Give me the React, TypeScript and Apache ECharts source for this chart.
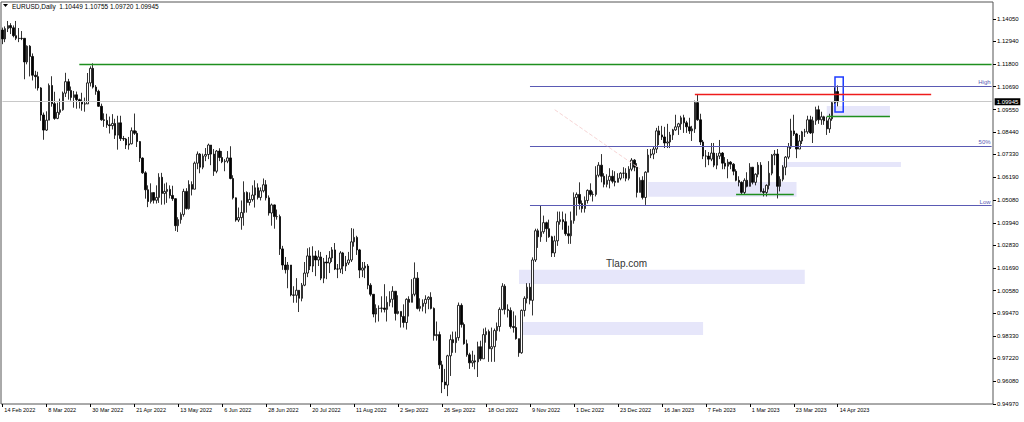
import React, { useEffect, useRef } from "react";
import * as echarts from "echarts";

// one daily bar: [close, low, high]; open is the previous close
type Bar = [number, number, number];

const symbol = "EURUSD,Daily";
const firstOpen = 1.135;

const feb22: Bar[] = [
  [1.1306, 1.128, 1.1362], [1.1357, 1.129, 1.1368], [1.1372, 1.134, 1.1395], [1.1361, 1.133, 1.1384],
  [1.1322, 1.1314, 1.1373], [1.1309, 1.13, 1.1395], [1.1308, 1.129, 1.136], [1.1309, 1.13, 1.1345],
  [1.1192, 1.1106, 1.1305], [1.127, 1.118, 1.1274], [1.1219, 1.112, 1.1275],
];
const mar22: Bar[] = [
  [1.1126, 1.11, 1.1234], [1.1119, 1.106, 1.1148], [1.1063, 1.105, 1.1143], [1.0929, 1.09, 1.1067],
  [1.0854, 1.0806, 1.0941], [1.0903, 1.085, 1.0947], [1.1075, 1.0905, 1.1085], [1.0985, 1.097, 1.1121],
  [1.0912, 1.0905, 1.1044], [1.0942, 1.0908, 1.099], [1.0955, 1.093, 1.101], [1.1037, 1.095, 1.1045],
  [1.1094, 1.1018, 1.1138], [1.105, 1.1005, 1.1108], [1.1016, 1.1, 1.107], [1.1029, 1.0965, 1.1048],
  [1.1005, 1.096, 1.1045], [1.0997, 1.0961, 1.101], [1.0983, 1.095, 1.1039], [1.0984, 1.0945, 1.1015],
  [1.1088, 1.099, 1.1137], [1.116, 1.107, 1.117], [1.1067, 1.106, 1.1185],
];
const apr22: Bar[] = [
  [1.1046, 1.1029, 1.1077], [1.0972, 1.0969, 1.1054], [1.0905, 1.09, 1.0985], [1.0902, 1.087, 1.0937],
  [1.088, 1.0865, 1.0935], [1.0876, 1.0837, 1.0921], [1.0887, 1.0857, 1.0933], [1.0829, 1.081, 1.091],
  [1.089, 1.0757, 1.0925], [1.0812, 1.08, 1.0925], [1.081, 1.08, 1.0825], [1.078, 1.076, 1.0815],
  [1.0786, 1.0757, 1.082], [1.0851, 1.0783, 1.0867], [1.0838, 1.083, 1.0936], [1.0797, 1.077, 1.085],
  [1.0715, 1.0696, 1.08], [1.0642, 1.0637, 1.0719], [1.0558, 1.0514, 1.065], [1.05, 1.0472, 1.058],
  [1.0544, 1.049, 1.059],
];
const may22: Bar[] = [
  [1.0506, 1.049, 1.0545], [1.052, 1.049, 1.058], [1.062, 1.0493, 1.064], [1.054, 1.0484, 1.0642],
  [1.055, 1.0485, 1.0589], [1.056, 1.0493, 1.0594], [1.053, 1.0515, 1.058], [1.0514, 1.0503, 1.0578],
  [1.038, 1.0354, 1.0516], [1.041, 1.0349, 1.0422], [1.0436, 1.039, 1.0446], [1.055, 1.0425, 1.0563],
  [1.0465, 1.046, 1.0566], [1.0584, 1.046, 1.0605], [1.0561, 1.053, 1.06], [1.069, 1.056, 1.0698],
  [1.0735, 1.066, 1.0748], [1.067, 1.064, 1.074], [1.0725, 1.066, 1.0737], [1.0733, 1.07, 1.0765],
  [1.078, 1.071, 1.0787], [1.0735, 1.068, 1.077],
];
const jun22: Bar[] = [
  [1.065, 1.0627, 1.076], [1.075, 1.064, 1.0755], [1.0718, 1.07, 1.0764], [1.0697, 1.069, 1.075],
  [1.07, 1.065, 1.071], [1.0716, 1.069, 1.075], [1.0614, 1.061, 1.0774], [1.0518, 1.051, 1.063],
  [1.0408, 1.04, 1.052], [1.042, 1.0398, 1.047], [1.0445, 1.036, 1.0505], [1.0545, 1.038, 1.06],
  [1.0495, 1.0445, 1.055], [1.051, 1.048, 1.0545], [1.0532, 1.05, 1.058], [1.0568, 1.047, 1.0605],
  [1.052, 1.051, 1.059], [1.0553, 1.0505, 1.057], [1.0583, 1.0545, 1.0614], [1.0518, 1.0505, 1.0606],
  [1.0443, 1.043, 1.053], [1.0483, 1.038, 1.049],
];
const jul22: Bar[] = [
  [1.0425, 1.0365, 1.0485], [1.0425, 1.041, 1.046], [1.0265, 1.0235, 1.0435], [1.0185, 1.0161, 1.028],
  [1.0162, 1.0143, 1.0225], [1.0185, 1.007, 1.02], [1.0037, 1.003, 1.016], [1.0035, 0.9998, 1.008],
  [1.006, 0.9998, 1.012], [1.002, 0.9952, 1.006], [1.0085, 1.0005, 1.0096], [1.0145, 1.008, 1.02],
  [1.023, 1.0125, 1.0268], [1.018, 1.016, 1.0273], [1.023, 1.015, 1.0278], [1.021, 1.013, 1.0255],
  [1.0225, 1.018, 1.0258], [1.012, 1.011, 1.025], [1.02, 1.0095, 1.022], [1.0195, 1.0115, 1.0235],
  [1.022, 1.0145, 1.0254],
];
const aug22: Bar[] = [
  [1.026, 1.02, 1.0274], [1.0165, 1.016, 1.0294], [1.0165, 1.012, 1.019], [1.0245, 1.0145, 1.0254],
  [1.018, 1.014, 1.025], [1.0195, 1.0155, 1.023], [1.021, 1.0185, 1.025], [1.03, 1.02, 1.0368],
  [1.0322, 1.0276, 1.0365], [1.026, 1.0235, 1.033], [1.016, 1.012, 1.0265], [1.017, 1.0125, 1.02],
  [1.018, 1.012, 1.02], [1.0085, 1.0065, 1.019], [1.004, 1.003, 1.0095], [0.9942, 0.9926, 1.004],
  [0.997, 0.99, 0.999], [0.997, 0.9905, 0.9985], [0.9972, 0.995, 1.003], [0.9965, 0.995, 1.009],
  [1.0, 0.9905, 1.003], [1.0015, 0.998, 1.0055], [1.0055, 0.9975, 1.008],
];
const sep22: Bar[] = [
  [0.9945, 0.991, 1.0045], [0.9955, 0.994, 1.0035], [0.993, 0.9875, 0.9945], [0.99, 0.9875, 0.999],
  [1.0015, 0.9865, 1.002], [1.0, 0.993, 1.003], [1.004, 1.0, 1.0115], [1.012, 1.003, 1.0198],
  [0.997, 0.9965, 1.015], [0.998, 0.9955, 1.002], [0.9995, 0.9955, 1.0015], [1.0015, 0.9945, 1.0035],
  [1.0025, 0.9966, 1.003], [0.997, 0.9965, 1.005], [0.9835, 0.981, 0.9975], [0.984, 0.981, 0.9905],
  [0.969, 0.967, 0.9855], [0.9605, 0.955, 0.971], [0.959, 0.957, 0.967], [0.9735, 0.9535, 0.974],
  [0.9815, 0.9635, 0.984], [0.98, 0.975, 0.9855],
];
const oct22: Bar[] = [
  [0.9825, 0.975, 0.9855], [0.9985, 0.981, 0.9999], [0.989, 0.9875, 0.9995], [0.9795, 0.979, 0.99],
  [0.974, 0.973, 0.9815], [0.97, 0.967, 0.975], [0.971, 0.968, 0.976], [0.9705, 0.9668, 0.974],
  [0.978, 0.963, 0.9805], [0.972, 0.971, 0.981], [0.984, 0.9725, 0.987], [0.9855, 0.98, 0.9875],
  [0.977, 0.9705, 0.9865], [0.978, 0.9705, 0.9875], [0.986, 0.9705, 0.987], [0.988, 0.981, 0.99],
  [0.9965, 0.9855, 0.9975], [1.008, 0.996, 1.0095], [0.9965, 0.994, 1.009], [0.996, 0.9925, 0.999],
  [0.988, 0.987, 0.9975],
];
const nov22: Bar[] = [
  [0.9875, 0.985, 0.9955], [0.982, 0.9815, 0.9935], [0.975, 0.973, 0.982], [0.996, 0.9745, 0.9965],
  [1.002, 0.993, 1.003], [1.0075, 0.9995, 1.0095], [1.001, 0.999, 1.0095], [1.021, 0.9935, 1.0223],
  [1.0355, 1.02, 1.0365], [1.0325, 1.027, 1.0365], [1.035, 1.03, 1.048], [1.0395, 1.034, 1.043],
  [1.0365, 1.03, 1.04], [1.0325, 1.032, 1.041], [1.0245, 1.0225, 1.033], [1.0305, 1.0225, 1.033],
  [1.04, 1.028, 1.045], [1.041, 1.0385, 1.045], [1.04, 1.036, 1.045], [1.034, 1.033, 1.044],
  [1.033, 1.029, 1.038], [1.0405, 1.029, 1.045],
];
const dec22: Bar[] = [
  [1.052, 1.039, 1.0545], [1.0535, 1.043, 1.0545], [1.049, 1.046, 1.0595], [1.0465, 1.0445, 1.0505],
  [1.0505, 1.0445, 1.0525], [1.0555, 1.049, 1.056], [1.0535, 1.0525, 1.059], [1.0535, 1.05, 1.055],
  [1.063, 1.0525, 1.0675], [1.068, 1.062, 1.0695], [1.0625, 1.0595, 1.0735], [1.0585, 1.057, 1.064],
  [1.0605, 1.057, 1.0635], [1.0625, 1.0565, 1.0665], [1.06, 1.059, 1.0655], [1.0595, 1.0575, 1.065],
  [1.0615, 1.06, 1.064], [1.064, 1.0605, 1.0645], [1.064, 1.0615, 1.067], [1.0615, 1.06, 1.0665],
  [1.066, 1.0605, 1.0675], [1.0705, 1.065, 1.0715],
];
const jan23: Bar[] = [
  [1.067, 1.065, 1.071], [1.0545, 1.052, 1.069], [1.0605, 1.0545, 1.062], [1.052, 1.051, 1.0625],
  [1.0645, 1.0483, 1.065], [1.073, 1.0645, 1.076], [1.0735, 1.0715, 1.076], [1.076, 1.071, 1.0775],
  [1.085, 1.074, 1.0865], [1.083, 1.078, 1.0875], [1.082, 1.0805, 1.0875], [1.079, 1.0765, 1.087],
  [1.0795, 1.0765, 1.0885], [1.083, 1.0765, 1.0845], [1.0855, 1.0805, 1.086], [1.087, 1.085, 1.093],
  [1.0885, 1.083, 1.089], [1.0915, 1.0855, 1.0925], [1.089, 1.084, 1.093], [1.087, 1.084, 1.09],
  [1.085, 1.0835, 1.0915], [1.086, 1.08, 1.0875],
];
const feb23: Bar[] = [
  [1.099, 1.084, 1.1], [1.0905, 1.09, 1.1033], [1.0795, 1.078, 1.0935], [1.0725, 1.071, 1.0805],
  [1.0725, 1.067, 1.0755], [1.071, 1.068, 1.0745], [1.074, 1.07, 1.079], [1.068, 1.067, 1.079],
  [1.0725, 1.066, 1.074], [1.074, 1.071, 1.0805], [1.069, 1.066, 1.0745], [1.0675, 1.066, 1.072],
  [1.0695, 1.0615, 1.071], [1.0685, 1.066, 1.07], [1.065, 1.063, 1.069], [1.0605, 1.06, 1.066],
  [1.0595, 1.0575, 1.0625], [1.0545, 1.0535, 1.06], [1.0605, 1.0535, 1.0615], [1.0575, 1.057, 1.0645],
];
const mar23: Bar[] = [
  [1.067, 1.0585, 1.069], [1.0595, 1.0585, 1.067], [1.0635, 1.058, 1.064], [1.068, 1.062, 1.0695],
  [1.055, 1.0545, 1.0695], [1.0545, 1.0525, 1.0565], [1.058, 1.0525, 1.0585], [1.064, 1.056, 1.07],
  [1.073, 1.063, 1.0735], [1.0735, 1.068, 1.0755], [1.0575, 1.0515, 1.076], [1.061, 1.055, 1.0625],
  [1.067, 1.06, 1.068], [1.072, 1.063, 1.0725], [1.077, 1.071, 1.079], [1.085, 1.076, 1.091],
  [1.0835, 1.0825, 1.093], [1.076, 1.0715, 1.084], [1.08, 1.076, 1.083], [1.0845, 1.0785, 1.085],
  [1.0845, 1.082, 1.086], [1.0905, 1.0835, 1.0925], [1.084, 1.0835, 1.0925],
];
const apr23: Bar[] = [
  [1.09, 1.079, 1.092], [1.0955, 1.088, 1.097], [1.0905, 1.0885, 1.0975], [1.092, 1.088, 1.0945],
  [1.09, 1.088, 1.0925], [1.086, 1.083, 1.092], [1.091, 1.084, 1.0935], [1.099, 1.09, 1.0995],
  [1.10449, 1.0985, 1.1065], [1.09945, 1.0972, 1.10755],
];

const months = [feb22, mar22, apr22, may22, jun22, jul22, aug22, sep22, oct22, nov22, dec22, jan23, feb23, mar23, apr23];
const emptyBars = 56;

// date labels every 16 bars
const xTickLabels = [
  "14 Feb 2022", "8 Mar 2022", "30 Mar 2022", "21 Apr 2022", "13 May 2022", "6 Jun 2022", "28 Jun 2022",
  "20 Jul 2022", "11 Aug 2022", "2 Sep 2022", "26 Sep 2022", "18 Oct 2022", "9 Nov 2022", "1 Dec 2022",
  "23 Dec 2022", "16 Jan 2023", "7 Feb 2023", "1 Mar 2023", "23 Mar 2023", "14 Apr 2023",
];
const yTicks = [
  1.1405, 1.1294, 1.118, 1.1069, 1.0955, 1.0844, 1.0733, 1.0619, 1.0508, 1.0394, 1.0283, 1.0169, 1.0058,
  0.9947, 0.9833, 0.9722, 0.9608, 0.9497,
];

// objects drawn on the chart: [fromBar, toBar, price]
const greenLevels: [number, number, number][] = [[28, 360, 1.1181], [300, 323, 1.0921], [267, 288, 1.0538]];
const redLevels: [number, number, number][] = [[252, 338, 1.1030]];
const fiboLevels: [string, number][] = [["High", 1.1071], ["50%", 1.0775], ["Low", 1.0479]];
const fiboFrom = 192;
const lowMark: [number, number, number] = [217, 290, 1.0481];
const trendLine: [number, number, number, number] = [201, 1.0955, 232, 1.0662];
// zones: [fromBar, toBar, top, bottom]
const zones: [number, number, number, number][] = [
  [300, 323, 1.0974, 1.0924],
  [284, 327, 1.0696, 1.0671],
  [235, 289, 1.0597, 1.0523],
  [188, 292, 1.0161, 1.0091],
  [189, 255, 0.9903, 0.9838],
];
const focusBox: [number, number, number, number] = [303, 306, 1.1117, 1.0944];

const App: React.FC = () => {
  const chartRef = useRef<HTMLDivElement | null>(null);

  useEffect(() => {
    if (!chartRef.current) return;
    const chart = echarts.init(chartRef.current, undefined, { renderer: "svg" });

    const bars = months.flat();
    const candles: number[][] = [];
    let prev = firstOpen;
    for (const [c, l, h] of bars) {
      candles.push([prev, c, Math.min(l, prev, c), Math.max(h, prev, c)]);
      prev = c;
    }
    const last = candles[candles.length - 1];
    const total = bars.length + emptyBars;
    const categories = Array.from({ length: total }, (_, i) => String(i));
    const showTick = (i: number) => i % 16 === 0 && i / 16 < xTickLabels.length;

    const seg = (a: number, b: number, p: number, lineStyle: object, label?: object) => [
      { coord: [a, p], lineStyle, label: label ?? { show: false } },
      { coord: [b, p] },
    ];
    const navy = "#5a5ab4";

    const lines: any[] = [
      seg(0, total - 1, last[1], { color: "#c8c8c8", width: 1, type: "solid" }, {
        show: true,
        position: "end",
        distance: 3,
        formatter: last[1].toFixed(5),
        backgroundColor: "#000",
        color: "#fff",
        fontSize: 6,
        padding: [1, 2, 0, 2],
      }),
      ...greenLevels.map(([a, b, p]) => seg(a, b, p, { color: "#1f8f1f", width: 1.4, type: "solid" })),
      seg(lowMark[0], lowMark[1], lowMark[2], { color: "#7a3050", width: 1, type: "solid" }),
      ...fiboLevels.map(([name, p]) =>
        seg(fiboFrom, total - 1, p, { color: navy, width: 1, type: "solid" }, {
          show: true,
          position: "insideEndTop",
          formatter: name,
          color: navy,
          fontSize: 6,
          distance: 1,
        })
      ),
      ...redLevels.map(([a, b, p]) => seg(a, b, p, { color: "#ee1c1c", width: 1.4, type: "solid" })),
      [
        { coord: [trendLine[0], trendLine[1]], lineStyle: { color: "#f7d6d6", width: 1, type: "dashed" }, label: { show: false } },
        { coord: [trendLine[2], trendLine[3]] },
      ],
    ];

    const areas: any[] = [
      ...zones.map(([a, b, t, btm]) => [{ coord: [a, t] }, { coord: [b, btm] }]),
      [
        { coord: [focusBox[0], focusBox[2]], itemStyle: { color: "rgba(0,0,0,0)", borderColor: "#1e3cff", borderWidth: 1.5 } },
        { coord: [focusBox[1], focusBox[3]] },
      ],
    ];

    chart.setOption({
      animation: false,
      backgroundColor: "#fff",
      textStyle: { fontFamily: "Liberation Sans" },
      grid: { left: 1, right: 31, top: 2, bottom: 18, show: true, borderColor: "#555", borderWidth: 1 },
      xAxis: {
        type: "category",
        data: categories,
        boundaryGap: true,
        axisLine: { show: false },
        axisTick: { show: true, interval: showTick, alignWithLabel: true, length: 3, lineStyle: { color: "#000" } },
        axisLabel: {
          interval: showTick,
          formatter: (_v: string, i: number) => xTickLabels[i / 16] ?? "",
          align: "left",
          margin: 3,
          padding: [0, 0, 0, 2],
          fontSize: 5.5,
          color: "#000",
        },
        splitLine: { show: false },
      },
      yAxis: {
        type: "value",
        position: "right",
        min: 0.9496,
        max: 1.1489,
        scale: true,
        splitLine: { show: false },
        axisLine: { show: false },
        axisTick: { show: true, length: 3, customValues: yTicks, lineStyle: { color: "#000" } },
        axisLabel: {
          customValues: yTicks,
          formatter: (v: number) => v.toFixed(5),
          fontSize: 6,
          margin: 4,
          color: "#000",
        },
      },
      graphic: [
        { type: "polygon", shape: { points: [[3, 4], [8, 4], [5.5, 7]] }, style: { fill: "#000" } },
        {
          type: "text",
          x: 12,
          y: 6,
          style: {
            text: `${symbol}  ${last[0].toFixed(5)} ${last[3].toFixed(5)} ${last[2].toFixed(5)} ${last[1].toFixed(5)}`,
            fontSize: 6.5,
            fontFamily: "Liberation Sans",
            fill: "#000",
            verticalAlign: "middle",
          },
        },
        {
          type: "text",
          x: 606,
          y: 263,
          style: { text: "Tlap.com", fontSize: 10, fontFamily: "Liberation Sans", fill: "#333", verticalAlign: "middle" },
        },
      ],
      series: [
        {
          type: "candlestick",
          data: candles,
          barWidth: 2,
          itemStyle: { color: "#fff", color0: "#000", borderColor: "#000", borderColor0: "#000", borderWidth: 0.8 },
          markLine: { silent: true, symbol: ["none", "none"], label: { show: false }, data: lines },
          markArea: { silent: true, itemStyle: { color: "#e6e6fa" }, data: areas },
        },
      ],
    });

    return () => {
      chart.dispose();
    };
  }, []);

  return (
    <div style={{ position: "fixed", left: 0, top: 0, width: 1024, height: 422, background: "#fff" }}>
      <div ref={chartRef} style={{ width: 1024, height: 422 }} />
    </div>
  );
};

export default App;
